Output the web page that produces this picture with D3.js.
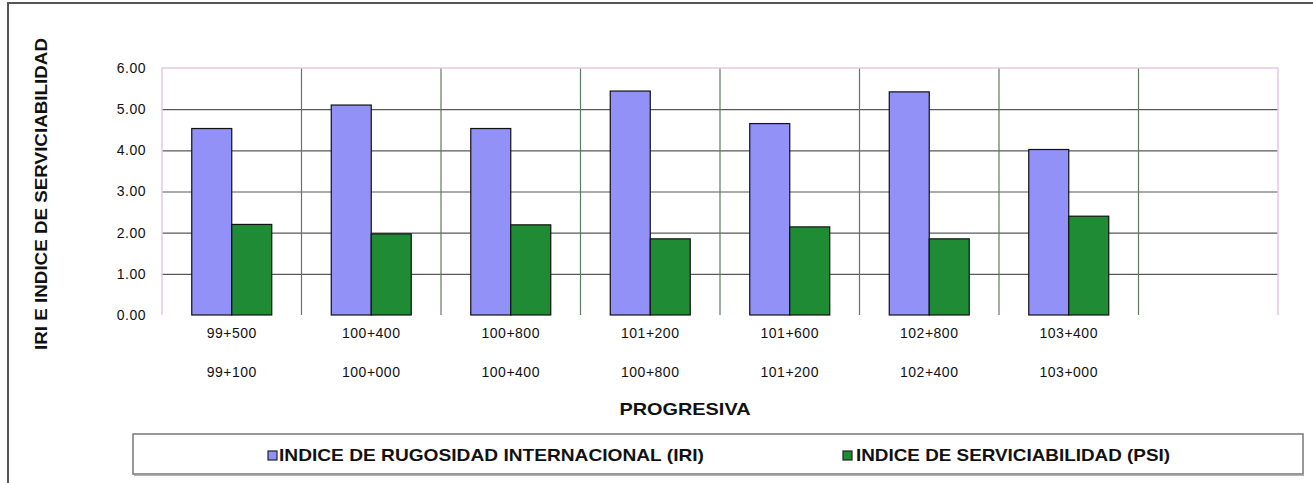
<!DOCTYPE html>
<html>
<head>
<meta charset="utf-8">
<script src="https://cdn.jsdelivr.net/npm/d3@7"></script>
<style>
  html, body { margin: 0; padding: 0; background: #ffffff; }
  svg { display: block; }
  text { font-family: Arial, "Liberation Sans", sans-serif; fill: #111; }
</style>
</head>
<body>
<svg id="chart" width="1313" height="483"></svg>
<script>
// ---- data ----
const categoriesTop    = ["99+500", "100+400", "100+800", "101+200", "101+600", "102+800", "103+400", ""];
const categoriesBottom = ["99+100", "100+000", "100+400", "100+800", "101+200", "102+400", "103+000", ""];
const seriesNames = ["INDICE DE RUGOSIDAD INTERNACIONAL (IRI)", "INDICE DE SERVICIABILIDAD (PSI)"];
const iriValues = [4.53, 5.10, 4.53, 5.44, 4.65, 5.42, 4.02];
const psiValues = [2.20, 1.97, 2.19, 1.85, 2.14, 1.85, 2.40];
const yTicks = [0, 1, 2, 3, 4, 5, 6];
const yTitle = "IRI E INDICE DE SERVICIABILIDAD";
const xTitle = "PROGRESIVA";

const colors = ["#9191f7", "#1f8c35"];

const svg = d3.select("#chart");

// outer chart frame
svg.append("rect")
  .attr("x", 8).attr("y", 3).attr("width", 1330).attr("height", 520)
  .attr("fill", "#fff").attr("stroke", "#555").attr("stroke-width", 2);

const plot = { left: 162, right: 1278, top: 68, bottom: 315 };

const x = d3.scaleBand()
  .domain(d3.range(categoriesTop.length))
  .range([plot.left, plot.right])
  .paddingInner(0).paddingOuter(0);

const xs = d3.scaleBand()
  .domain(d3.range(seriesNames.length))
  .range([0, x.bandwidth()])
  .paddingInner(0).paddingOuter(0.744);

const y = d3.scaleLinear().domain([0, 6]).range([plot.bottom, plot.top]);

// plot background
svg.append("rect")
  .attr("x", plot.left).attr("y", plot.top)
  .attr("width", plot.right - plot.left).attr("height", plot.bottom - plot.top)
  .attr("fill", "#fff");

// horizontal gridlines
const yGrid = d3.axisLeft(y).tickValues(yTicks.filter(t => t > 0 && t < 6))
  .tickSize(-(plot.right - plot.left)).tickFormat("");
svg.append("g")
  .attr("transform", `translate(${plot.left},0)`)
  .call(yGrid)
  .call(g => g.select(".domain").remove())
  .call(g => g.selectAll("line").attr("stroke", "#5a5a5a").attr("stroke-width", 1.2));

// vertical gridlines at category boundaries
const bounds = d3.range(1, categoriesTop.length).map(i => x(i));
svg.append("g").selectAll("line").data(bounds).join("line")
  .attr("x1", d => d).attr("x2", d => d)
  .attr("y1", plot.top).attr("y2", plot.bottom)
  .attr("stroke", "#5e7a60").attr("stroke-width", 1.2);

// plot border (pinkish)
svg.append("path")
  .attr("d", `M${plot.left},${plot.bottom}V${plot.top}H${plot.right}V${plot.bottom}`)
  .attr("fill", "none").attr("stroke", "#e4c8e4").attr("stroke-width", 1.5);

// bars
const data = iriValues.map((v, i) => ({ i, vals: [v, psiValues[i]] }));
const groups = svg.append("g").selectAll("g").data(data).join("g")
  .attr("transform", d => `translate(${x(d.i)},0)`);
groups.selectAll("rect")
  .data(d => d.vals.map((v, s) => ({ v, s })))
  .join("rect")
  .attr("x", d => xs(d.s))
  .attr("width", xs.bandwidth())
  .attr("y", d => y(d.v))
  .attr("height", d => y(0) - y(d.v))
  .attr("fill", d => colors[d.s])
  .attr("stroke", "#111")
  .attr("stroke-width", 1.2);

// y tick labels
const yAxis = d3.axisLeft(y).tickValues(yTicks).tickSize(0).tickPadding(0)
  .tickFormat(d3.format(".2f"));
svg.append("g")
  .attr("transform", `translate(146,0)`)
  .call(yAxis)
  .call(g => g.select(".domain").remove())
  .call(g => g.selectAll("text")
    .attr("font-size", 14).attr("letter-spacing", 0.5)
    .attr("font-family", "Arial, 'Liberation Sans', sans-serif").attr("fill", "#111"));

// x category labels (two rows)
const xLab = svg.append("g");
xLab.selectAll("text.top").data(categoriesTop).join("text")
  .attr("class", "top")
  .attr("x", (d, i) => x(i) + x.bandwidth() / 2)
  .attr("y", 333).attr("dy", "0.35em")
  .attr("text-anchor", "middle")
  .attr("font-size", 14).attr("letter-spacing", 0.5)
  .text(d => d);
xLab.selectAll("text.bot").data(categoriesBottom).join("text")
  .attr("class", "bot")
  .attr("x", (d, i) => x(i) + x.bandwidth() / 2)
  .attr("y", 372).attr("dy", "0.35em")
  .attr("text-anchor", "middle")
  .attr("font-size", 14).attr("letter-spacing", 0.5)
  .text(d => d);

// axis titles
svg.append("text")
  .attr("x", 685).attr("y", 409).attr("dy", "0.35em")
  .attr("text-anchor", "middle")
  .attr("font-weight", "bold").attr("font-size", 17)
  .attr("textLength", 131).attr("lengthAdjust", "spacingAndGlyphs")
  .text(xTitle);

svg.append("text")
  .attr("transform", "translate(41,194) rotate(-90)")
  .attr("dy", "0.35em")
  .attr("text-anchor", "middle")
  .attr("font-weight", "bold").attr("font-size", 17)
  .attr("textLength", 312).attr("lengthAdjust", "spacingAndGlyphs")
  .text(yTitle);

// legend
svg.append("rect")
  .attr("x", 133).attr("y", 434).attr("width", 1170).attr("height", 40)
  .attr("fill", "#fff").attr("stroke", "#777").attr("stroke-width", 1.5);
svg.append("line")
  .attr("x1", 134).attr("x2", 1304).attr("y1", 475).attr("y2", 475)
  .attr("stroke", "#999").attr("stroke-width", 1.5);

const legendItems = [
  { name: seriesNames[0], mx: 268, tx: 279, tw: 425 },
  { name: seriesNames[1], mx: 843, tx: 856, tw: 314 }
];
const lg = svg.append("g").selectAll("g").data(legendItems).join("g");
lg.append("rect")
  .attr("x", d => d.mx).attr("y", 451).attr("width", 9).attr("height", 9)
  .attr("fill", (d, i) => colors[i]).attr("stroke", "#222").attr("stroke-width", 1.2);
lg.append("text")
  .attr("x", d => d.tx).attr("y", 455.5).attr("dy", "0.35em")
  .attr("font-weight", "bold").attr("font-size", 17)
  .attr("textLength", d => d.tw).attr("lengthAdjust", "spacingAndGlyphs")
  .text(d => d.name);
</script>
</body>
</html>
